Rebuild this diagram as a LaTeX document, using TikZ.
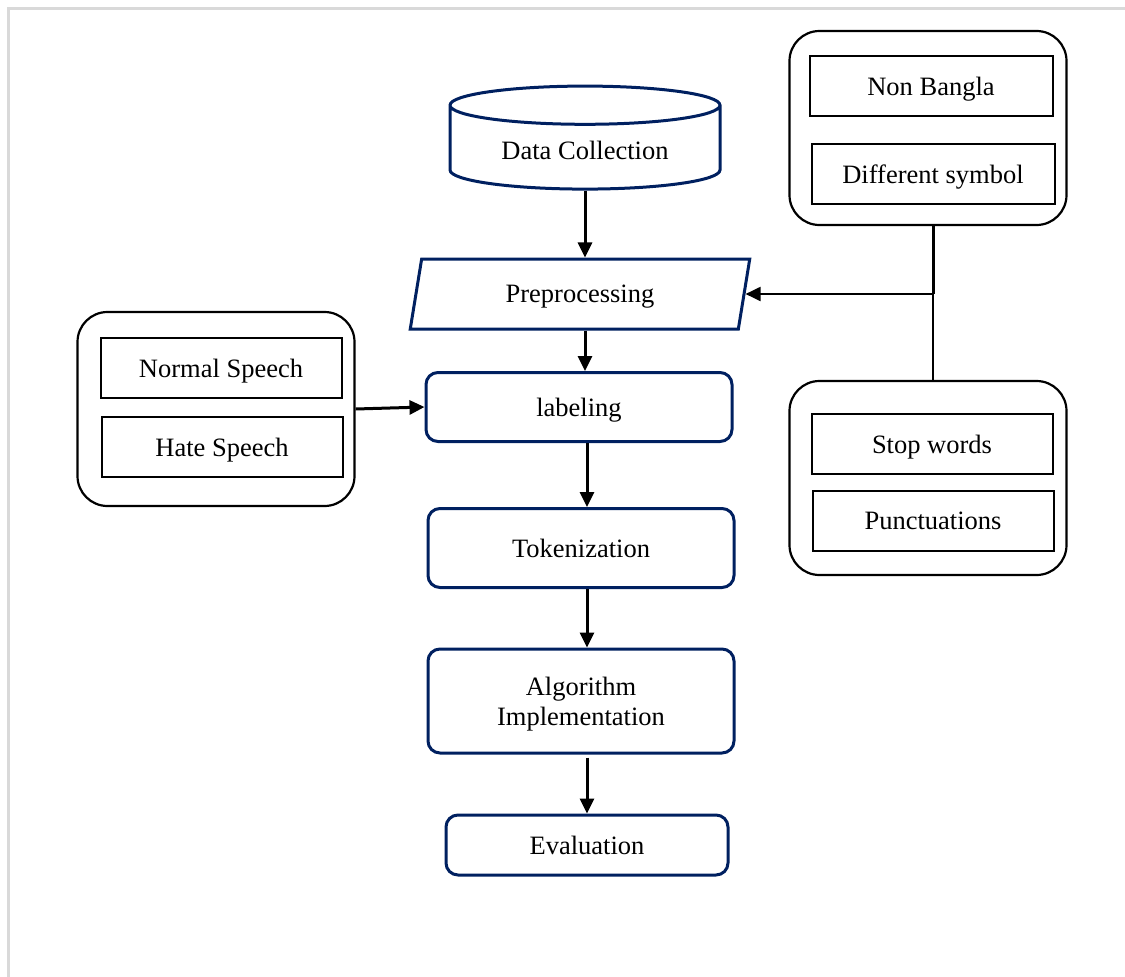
\documentclass[tikz,border=0pt]{standalone}
\usepackage{fontspec}
\setmainfont{Liberation Serif}
\usetikzlibrary{positioning, shapes.geometric, arrows.meta}
\definecolor{navy}{HTML}{002060}

\begin{document}
\begin{tikzpicture}[
        x=1pt, y={(0pt,-1pt)},
        txt/.style={font=\fontsize{26.5}{30}\selectfont, text depth=0pt},
        flowbox/.style={rectangle, draw=navy, line width=3pt, rounded corners=12pt, minimum width=306pt, minimum height=69pt, align=center, txt},
        database/.style={cylinder, shape border rotate=90, aspect=0.22, draw=navy, line width=3pt, minimum width=270pt, minimum height=103pt, txt},
        prepbox/.style={trapezium, trapezium left angle=77, trapezium right angle=103, trapezium stretches=true, draw=navy, line width=3pt, minimum width=340pt, minimum height=70pt, txt},
        group/.style={rectangle, draw=black, line width=2.2pt, rounded corners=30pt, minimum width=277pt, minimum height=194pt},
        item/.style={rectangle, draw=black, line width=2pt, minimum width=241pt, minimum height=60pt, txt},
        arrow/.style={-{Triangle[length=15pt,width=14pt]}, line width=3pt}
    ]
    \useasboundingbox (0,0) rectangle (1125,977);
    \draw[line width=3pt, gray!30] (8,977) -- (8,8) -- (1125,8);

    % FLUJO PRINCIPAL
    \node[database] (data) at (585,150) {Data Collection};
    \node[prepbox] (prep) at (580,294) {Preprocessing};
    \node[flowbox] (lab) at (579,407) {labeling};
    \node[flowbox, minimum height=79pt] (tok) at (581,548) {Tokenization};
    \node[flowbox, minimum height=104pt] (algo) at (581,701) {Algorithm\\Implementation};
    \node[flowbox, minimum width=282pt, minimum height=60pt] (eval) at (587,845) {Evaluation};

    % ETIQUETAS
    \node[group] (grpL) at (216,409) {};
    \node[item] (normal) at ([xshift=5pt, yshift=41pt]grpL.center) {Normal Speech};
    \node[item] (hate) at ([xshift=6pt, yshift=-38pt]grpL.center) {Hate Speech};

    % LIMPIEZA
    \node[group] (grpA) at (928,128) {};
    \node[item, minimum width=243pt] (nonb) at ([xshift=3pt, yshift=42pt]grpA.center) {Non Bangla};
    \node[item, minimum width=243pt] (symb) at ([xshift=5pt, yshift=-46pt]grpA.center) {Different symbol};
    \node[group] (grpB) at (928,478) {};
    \node[item] (stop) at ([xshift=4pt, yshift=34pt]grpB.center) {Stop words};
    \node[item] (punct) at ([xshift=5pt, yshift=-43pt]grpB.center) {Punctuations};

    % Flechas de conexión
    \draw[arrow] (data.south) -- (data.south |- prep.north);
    \draw[arrow] (data.south |- prep.south) -- (data.south |- lab.north);
    \draw[arrow] (eval.north |- lab.south) -- (eval.north |- tok.north);
    \draw[arrow] (eval.north |- tok.south) -- (eval.north |- algo.north);
    \draw[arrow] ([yshift=-3pt]algo.south -| eval.north) -- (eval.north);
    \draw[arrow] (grpL.east) -- (lab.west);
    \coordinate (top) at ([xshift=5pt]grpA.south);
    \coordinate (junc) at (top |- prep.east);
    \draw[line width=3pt] (top) -- (junc);
    \draw[line width=2pt] (junc) -- (junc |- grpB.north);
    \draw[arrow, line width=2pt] (junc) -- (prep.east);
\end{tikzpicture}
\end{document}
